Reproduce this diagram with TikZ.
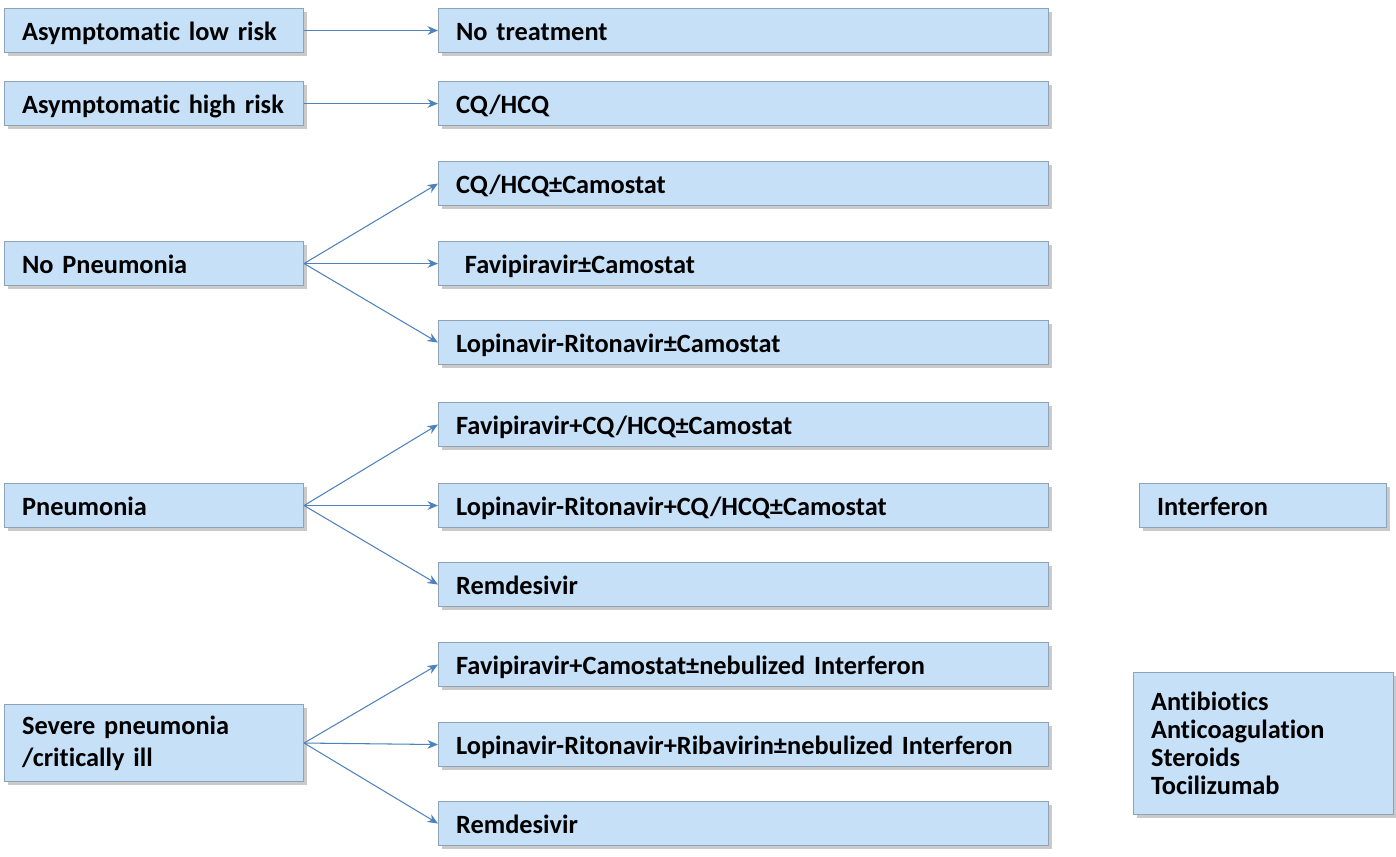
\documentclass[tikz,border=0pt]{standalone}
\usepackage{fontspec}
\setmainfont{Carlito}[Ligatures=NoCommon]
\usetikzlibrary{arrows.meta,shadows}
\definecolor{boxfill}{HTML}{C6E0F8}
\definecolor{boxline}{HTML}{8EA3B5}
\definecolor{arr}{HTML}{4F81BD}
\begin{document}
\begin{tikzpicture}[x=0.02cm,y=-0.02cm,
  box/.style={draw=boxline,fill=boxfill,line width=0.6pt,anchor=north west,inner ysep=0pt,inner xsep=10pt,
    font=\bfseries\fontsize{15}{18}\selectfont,align=left,text width=#1,
    drop shadow={shadow xshift=2pt,shadow yshift=-2pt,fill=black!35,opacity=0.6}},
  arrow/.style={draw=arr,line width=0.6pt,-{Stealth[length=6pt,width=5pt]}}]
\useasboundingbox (0,0) rectangle (1396,856);
% left boxes
\foreach \n/\y/\t in {a/8/{Asymptomatic low risk}, b/81/{Asymptomatic high risk}, c/241/{No Pneumonia}, d/483/{Pneumonia}}{
  \node[box=299*0.02cm-20pt,minimum height=44*0.02cm,text depth=0pt,text height=11pt] (\n) at (4,\y) {\t};
}
\node[box=299*0.02cm-20pt,minimum height=77*0.02cm] (e) at (4,704) {Severe pneumonia\\/critically ill};
% right boxes
\foreach \n/\y/\t in {r1/8/{No treatment}, r2/81/{CQ/HCQ}, r3/161/{CQ/HCQ±Camostat}, r4/241/{\ Favipiravir±Camostat},
  r5/320/{Lopinavir-Ritonavir±Camostat}, r6/402/{Favipiravir+CQ/HCQ±Camostat}, r7/483/{Lopinavir-Ritonavir+CQ/HCQ±Camostat},
  r8/562/{Remdesivir}, r9/642/{Favipiravir+Camostat±nebulized Interferon}, r10/722/{Lopinavir-Ritonavir+Ribavirin±nebulized Interferon},
  r11/801/{Remdesivir}}{
  \node[box=610*0.02cm-20pt,minimum height=44*0.02cm,text height=11pt,text depth=0pt] (\n) at (438,\y) {\t};
}
\node[box=247*0.02cm-20pt,minimum height=44*0.02cm,text height=11pt,text depth=0pt] (int) at (1139,483) {Interferon};
\node[box=260*0.02cm-20pt,minimum height=142*0.02cm,font=\bfseries\fontsize{15}{16}\selectfont] (ab) at (1133,672) {Antibiotics\\Anticoagulation\\Steroids\\Tocilizumab};
% arrows
\draw[arrow] (a.east) -- (r1.west);
\draw[arrow] (b.east) -- (r2.west);
\foreach \t in {r3,r4,r5} \draw[arrow] (c.east) -- (\t.west);
\foreach \t in {r6,r7,r8} \draw[arrow] (d.east) -- (\t.west);
\foreach \t in {r9,r10,r11} \draw[arrow] (e.east) -- (\t.west);
\end{tikzpicture}
\end{document}
